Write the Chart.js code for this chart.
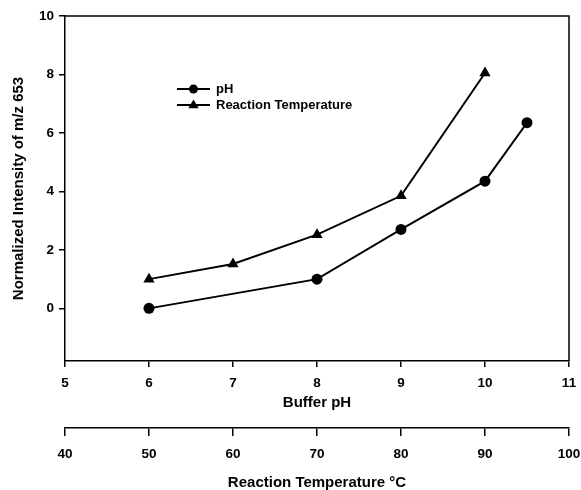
<!DOCTYPE html>
<html>
<head>
<meta charset="utf-8">
<script src="https://cdn.jsdelivr.net/npm/chart.js@4"></script>
<style>
html,body{margin:0;padding:0;background:#fff;}
#wrap{width:581px;height:490px;}
</style>
</head>
<body>
<div id="wrap"><canvas id="c" width="581" height="490"></canvas></div>
<script>
// Data
const phX = [6, 8, 9, 10, 10.5];
const phY = [0, 1.0, 2.7, 4.35, 6.35];
const tempX = [50, 60, 70, 80, 90];
const tempY = [1.0, 1.52, 2.52, 3.85, 8.05];
const yTicks = [0, 2, 4, 6, 8, 10];
const phTicks = [5, 6, 7, 8, 9, 10, 11];
const tempTicks = [40, 50, 60, 70, 80, 90, 100];
const seriesNames = ['pH', 'Reaction Temperature'];

const FONT = "'Liberation Sans', Arial, sans-serif";

const framePlugin = {
  id: 'frame',
  afterDraw(chart) {
    const {ctx, chartArea: a} = chart;
    ctx.save();
    ctx.strokeStyle = '#000';
    ctx.lineWidth = 1.5;
    ctx.beginPath();
    ctx.moveTo(a.left, a.top);
    ctx.lineTo(a.right, a.top);
    ctx.lineTo(a.right, a.bottom);
    ctx.stroke();
    // legend
    const rows = [
      {name: seriesNames[0], style: 'circle', r: 4.5},
      {name: seriesNames[1], style: 'triangle', r: 5.5}
    ];
    const lx0 = 177, lx1 = 210, tx = 216;
    rows.forEach((row, i) => {
      const y = 89 + i * 16;
      ctx.strokeStyle = '#000';
      ctx.lineWidth = 1.8;
      ctx.beginPath();
      ctx.moveTo(lx0, y); ctx.lineTo(lx1, y); ctx.stroke();
      ctx.fillStyle = '#000';
      const cx = (lx0 + lx1) / 2;
      ctx.beginPath();
      if (row.style === 'circle') {
        ctx.arc(cx, y, row.r, 0, Math.PI * 2);
      } else {
        const r = row.r;
        ctx.moveTo(cx, y - r);
        ctx.lineTo(cx + r * 0.95, y + r * 0.6);
        ctx.lineTo(cx - r * 0.95, y + r * 0.6);
        ctx.closePath();
      }
      ctx.fill();
      ctx.font = "bold 13px " + FONT;
      ctx.textBaseline = 'middle';
      ctx.textAlign = 'left';
      ctx.fillText(row.name, tx, y + 0.5);
    });
    ctx.restore();
  }
};

const tickFont = {family: FONT, size: 13.5, weight: 'bold'};
const titleFont = {family: FONT, size: 15, weight: 'bold'};

function noSidePad(s) { s.paddingLeft = 0; s.paddingRight = 0; }

new Chart(document.getElementById('c'), {
  type: 'scatter',
  data: {
    datasets: [
      {
        label: seriesNames[0],
        data: phX.map((x, i) => ({x, y: phY[i]})),
        xAxisID: 'x',
        showLine: true,
        borderColor: '#000',
        backgroundColor: '#000',
        borderWidth: 2,
        pointStyle: 'circle',
        pointRadius: 5.5,
        pointBorderWidth: 0,
        tension: 0
      },
      {
        label: seriesNames[1],
        data: tempX.map((x, i) => ({x, y: tempY[i]})),
        xAxisID: 'x2',
        showLine: true,
        borderColor: '#000',
        backgroundColor: '#000',
        borderWidth: 2,
        pointStyle: 'triangle',
        pointRadius: 6.5,
        pointBorderWidth: 0,
        tension: 0
      }
    ]
  },
  options: {
    responsive: false,
    animation: false,
    devicePixelRatio: 1,
    layout: {padding: {left: 0, right: 12, top: 16, bottom: 0}},
    plugins: {legend: {display: false}, tooltip: {enabled: false}},
    scales: {
      y: {
        type: 'linear',
        position: 'left',
        min: -1.8,
        max: 10,
        afterBuildTicks(s) { s.ticks = yTicks.map(v => ({value: v})); },
        afterFit(s) { s.width = 65; s.paddingTop = 0; s.paddingBottom = 0; },
        ticks: {color: '#000', font: tickFont, padding: 5},
        grid: {display: true, drawOnChartArea: false, drawTicks: true, tickLength: 6, color: '#000', lineWidth: 1.5},
        border: {display: true, color: '#000', width: 1.5},
        title: {display: true, text: 'Normalized Intensity of m/z 653', color: '#000', font: titleFont, padding: {top: 10, bottom: 0}}
      },
      x: {
        type: 'linear',
        position: 'bottom',
        weight: 0,
        min: 5,
        max: 11,
        afterBuildTicks(s) { s.ticks = phTicks.map(v => ({value: v})); },
        afterFit(s) { s.height = 67; noSidePad(s); },
        ticks: {color: '#000', font: tickFont, padding: 8, maxRotation: 0},
        grid: {display: true, drawOnChartArea: false, drawTicks: true, tickLength: 6, color: '#000', lineWidth: 1.5},
        border: {display: true, color: '#000', width: 1.5},
        title: {display: true, text: 'Buffer pH', color: '#000', font: titleFont, padding: {top: 0, bottom: 16}}
      },
      x2: {
        type: 'linear',
        position: 'bottom',
        weight: 1,
        min: 40,
        max: 100,
        afterBuildTicks(s) { s.ticks = tempTicks.map(v => ({value: v})); },
        afterFit(s) { s.height = 62; noSidePad(s); },
        ticks: {color: '#000', font: tickFont, padding: 10, maxRotation: 0},
        grid: {display: true, drawOnChartArea: false, drawTicks: true, tickLength: 8, color: '#000', lineWidth: 1.5},
        border: {display: true, color: '#000', width: 1.5},
        title: {display: true, text: 'Reaction Temperature °C', color: '#000', font: titleFont, padding: {top: 0, bottom: -2}}
      }
    }
  },
  plugins: [framePlugin]
});
</script>
</body>
</html>
